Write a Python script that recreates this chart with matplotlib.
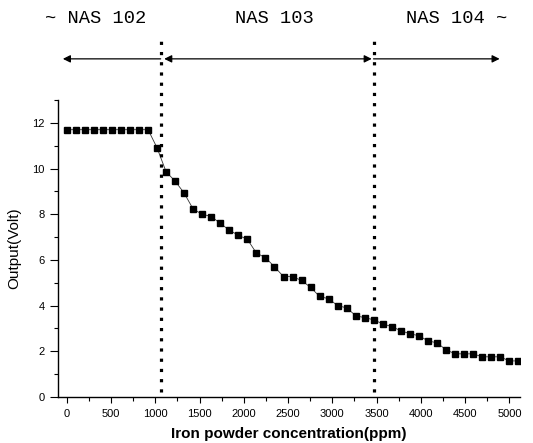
import matplotlib
matplotlib.use("Agg")
import matplotlib.pyplot as plt
from matplotlib.ticker import MultipleLocator

# Data
conc_ppm = [0, 102, 204, 306, 408, 510, 612, 714, 816, 918,
            1020, 1122, 1224, 1326, 1428, 1530, 1632, 1734, 1836, 1938,
            2040, 2142, 2244, 2346, 2448, 2550, 2652, 2754, 2856, 2958,
            3060, 3162, 3264, 3366, 3468, 3570, 3672, 3774, 3876, 3978,
            4080, 4182, 4284, 4386, 4488, 4590, 4692, 4794, 4896, 4998, 5100]
output_volt = [11.7, 11.7, 11.7, 11.7, 11.7, 11.7, 11.7, 11.7, 11.7, 11.7,
               10.9, 9.85, 9.45, 8.92, 8.22, 8.0, 7.9, 7.6, 7.3, 7.08,
               6.9, 6.3, 6.1, 5.7, 5.27, 5.27, 5.1, 4.8, 4.4, 4.3,
               4.0, 3.9, 3.56, 3.47, 3.38, 3.2, 3.08, 2.9, 2.77, 2.68,
               2.46, 2.37, 2.07, 1.89, 1.89, 1.89, 1.76, 1.76, 1.76, 1.58, 1.58]
boundaries = [1060, 3465]
region_labels = ["~ NAS 102", "NAS 103", "NAS 104 ~"]
xticks = [0, 500, 1000, 1500, 2000, 2500, 3000, 3500, 4000, 4500, 5000]
yticks = [0, 2, 4, 6, 8, 10, 12]

fig = plt.figure(figsize=(5.33, 4.43), dpi=100)
ax = fig.add_axes([0.1088, 0.1038, 0.8668, 0.6705])

ax.plot(conc_ppm, output_volt, color="#333333", lw=0.6,
        marker="s", markersize=5, markerfacecolor="black",
        markeredgecolor="black", zorder=3)

ax.set_xlim(-100, 5120)
ax.set_ylim(0, 13)
ax.set_xticks(xticks)
ax.set_yticks(yticks)
ax.xaxis.set_minor_locator(MultipleLocator(250))
ax.yaxis.set_minor_locator(MultipleLocator(1))
for s in ["top", "right"]:
    ax.spines[s].set_visible(False)
for s in ["left", "bottom"]:
    ax.spines[s].set_linewidth(1.0)
ax.tick_params(which="major", direction="out", length=4.5, width=0.8,
               labelsize=8)
ax.tick_params(axis="y", which="major", length=5.5, pad=4)
ax.tick_params(axis="x", which="major", pad=4)
ax.tick_params(which="minor", direction="out", length=3, width=0.8)
for lab in ax.get_xticklabels() + ax.get_yticklabels():
    lab.set_family("Liberation Sans")

ax.set_xlabel("Iron powder concentration(ppm)", family="Liberation Sans",
              fontsize=11, fontweight="bold", labelpad=6)
ax.set_ylabel("Output(Volt)", family="Liberation Sans", fontsize=11,
              labelpad=8)

# Vertical dotted boundaries (extend above axes)
for b in boundaries:
    ax.plot([b, b], [0.2, 15.6], color="black", lw=2.3,
            linestyle=(0, (1, 2.2)), clip_on=False, zorder=4)

# Arrows
arrow_y = 14.8
arrow_kw = dict(color="black", lw=0.9, shrinkA=0, shrinkB=0,
                mutation_scale=11)
ax.annotate("", xy=(-45, arrow_y), xytext=(boundaries[0], arrow_y),
            arrowprops=dict(arrowstyle="-|>", **arrow_kw),
            annotation_clip=False)
ax.annotate("", xy=(boundaries[1] - 20, arrow_y),
            xytext=(boundaries[0] + 40, arrow_y),
            arrowprops=dict(arrowstyle="<|-|>", **arrow_kw),
            annotation_clip=False)
ax.annotate("", xy=(4890, arrow_y), xytext=(boundaries[1], arrow_y),
            arrowprops=dict(arrowstyle="-|>", **arrow_kw),
            annotation_clip=False)

# Region labels
label_x = [0.18, 0.514, 0.856]
for lx, t in zip(label_x, region_labels):
    fig.text(lx, 0.958, t, ha="center", va="center",
             family="Liberation Mono", fontsize=13.5)

fig.savefig("out.png", dpi=100)
